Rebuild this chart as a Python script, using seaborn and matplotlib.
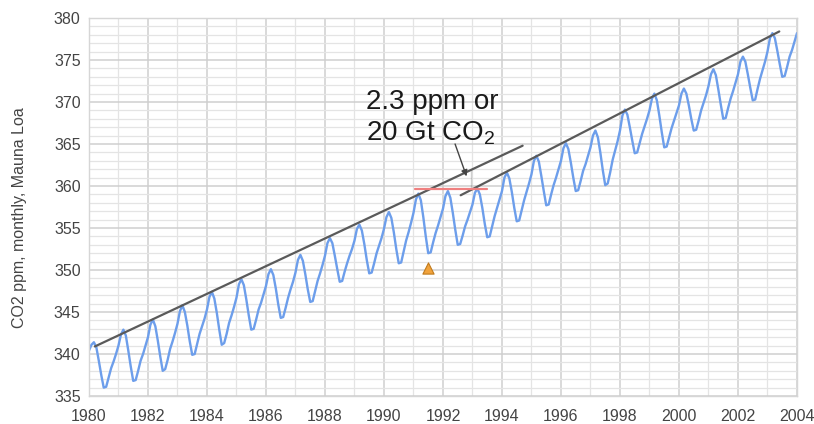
import numpy as np
import matplotlib
matplotlib.use("Agg")
import matplotlib.pyplot as plt
from matplotlib.ticker import MultipleLocator
import seaborn as sns


# ---------------------------------------------------------------------------
# Data (monthly CO2, Mauna Loa; one row per year)
# ---------------------------------------------------------------------------

co2_ppm = [
    340.4, 341.1, 341.4, 340.8, 339.2, 337.5, 336.0, 336.1, 337.2, 338.3, 339.1, 340.0,  # 1980
    341.0, 342.3, 342.9, 342.2, 340.4, 338.5, 336.8, 336.9, 338.0, 339.2, 340.0, 341.0,  # 1981
    342.0, 343.5, 344.1, 343.3, 341.6, 339.7, 338.0, 338.2, 339.3, 340.6, 341.5, 342.5,  # 1982
    343.6, 345.1, 345.8, 345.0, 343.4, 341.5, 339.9, 340.0, 341.2, 342.4, 343.3, 344.2,  # 1983
    345.3, 346.8, 347.4, 346.6, 344.9, 342.9, 341.1, 341.3, 342.4, 343.7, 344.6, 345.6,  # 1984
    346.7, 348.3, 348.9, 348.2, 346.5, 344.6, 342.9, 343.0, 344.1, 345.3, 346.1, 347.1,  # 1985
    348.1, 349.5, 350.1, 349.4, 347.8, 345.9, 344.3, 344.4, 345.5, 346.7, 347.7, 348.6,  # 1986
    349.7, 351.2, 351.8, 351.1, 349.5, 347.7, 346.2, 346.3, 347.5, 348.7, 349.6, 350.6,  # 1987
    351.7, 353.2, 353.8, 353.2, 351.7, 350.1, 348.6, 348.7, 349.8, 350.8, 351.7, 352.5,  # 1988
    353.5, 354.9, 355.4, 354.7, 353.1, 351.2, 349.6, 349.7, 350.8, 352.0, 352.9, 353.8,  # 1989
    354.9, 356.3, 356.9, 356.2, 354.5, 352.5, 350.8, 350.9, 352.2, 353.5, 354.5, 355.6,  # 1990
    356.8, 358.4, 359.1, 358.3, 356.3, 354.0, 352.0, 352.1, 353.3, 354.4, 355.3, 356.3,  # 1991
    357.3, 358.8, 359.4, 358.6, 356.8, 354.8, 353.0, 353.1, 354.1, 355.2, 356.0, 356.9,  # 1992
    357.8, 359.2, 359.7, 359.0, 357.4, 355.5, 353.9, 354.0, 355.2, 356.4, 357.4, 358.4,  # 1993
    359.4, 361.0, 361.6, 360.9, 359.3, 357.4, 355.8, 355.9, 357.1, 358.3, 359.3, 360.3,  # 1994
    361.4, 363.0, 363.6, 362.9, 361.2, 359.4, 357.7, 357.8, 359.0, 360.1, 361.0, 362.0,  # 1995
    363.0, 364.5, 365.1, 364.4, 362.8, 361.0, 359.4, 359.5, 360.6, 361.8, 362.6, 363.6,  # 1996
    364.6, 366.0, 366.6, 365.8, 364.0, 361.9, 360.1, 360.3, 361.6, 363.1, 364.2, 365.3,  # 1997
    366.6, 368.4, 369.1, 368.5, 367.0, 365.4, 363.9, 364.0, 365.1, 366.2, 367.1, 368.0,  # 1998
    369.0, 370.4, 371.0, 370.2, 368.4, 366.4, 364.6, 364.7, 365.8, 366.9, 367.8, 368.7,  # 1999
    369.6, 371.0, 371.6, 371.0, 369.6, 368.0, 366.6, 366.7, 367.8, 369.0, 369.9, 370.8,  # 2000
    371.9, 373.3, 373.9, 373.2, 371.5, 369.7, 368.0, 368.1, 369.3, 370.4, 371.3, 372.3,  # 2001
    373.3, 374.8, 375.4, 374.8, 373.3, 371.7, 370.2, 370.3, 371.6, 372.8, 373.8, 374.8,  # 2002
    376.0, 377.6, 378.2, 377.6, 376.1, 374.5, 373.0, 373.1, 374.2, 375.4, 376.2, 377.2,  # 2003
    378.2,                                                                                # 2004
]
years = 1980 + np.arange(len(co2_ppm)) / 12

# hand-drawn envelope lines
trend_a_years = [1980.2, 1994.7]
trend_a_ppm = [340.9, 364.8]
trend_b_years = [1992.6, 2003.4]
trend_b_ppm = [358.9, 378.4]
gap_years = [1992.95, 1992.95]
gap_ppm = [359.5, 361.9]
level_years = [1991.05, 1993.5]
level_ppm = [359.7, 359.7]
marker_year = [1991.5]
marker_ppm = [350.2]

x_ticks = list(range(1980, 2005, 2))
y_ticks = list(range(335, 381, 5))


# ---------------------------------------------------------------------------
# Plot
# ---------------------------------------------------------------------------

sns.set_theme(style="white")
plt.rcParams["font.family"] = ["Liberation Sans", "DejaVu Sans"]
plt.rcParams["mathtext.default"] = "regular"

fig = plt.figure(figsize=(8.14, 4.24), dpi=100)
ax = fig.add_axes([0.1093, 0.066, 0.8698, 0.8915])

ax.set_axisbelow(True)
ax.xaxis.set_minor_locator(MultipleLocator(1))
ax.yaxis.set_minor_locator(MultipleLocator(1))
ax.grid(which="major", color="#cfcfcf", linewidth=1.1)
ax.grid(which="minor", color="#e4e4e4", linewidth=0.9)

sns.lineplot(x=years, y=co2_ppm, ax=ax, color="#6d9eeb", linewidth=1.7)

line_kw = dict(color="#5a5a5a", linewidth=1.6)
sns.lineplot(x=trend_a_years, y=trend_a_ppm, ax=ax, **line_kw)
sns.lineplot(x=trend_b_years, y=trend_b_ppm, ax=ax, **line_kw)
sns.lineplot(x=gap_years, y=gap_ppm, ax=ax, color="#222222", linewidth=1.6)
sns.lineplot(x=level_years, y=level_ppm, ax=ax, color="#ef8080", linewidth=1.6)

sns.scatterplot(x=marker_year, y=marker_ppm, ax=ax, marker="^", s=65,
                color="#f1a33c", edgecolor="#c07a1c", linewidth=0.8, zorder=5)

ax.text(1989.39, 369.17, "2.3 ppm or", fontsize=20, color="#1a1a1a",
        ha="left", va="baseline")
ax.text(1989.39, 365.36, "20 Gt CO$_2$", fontsize=20, color="#1a1a1a",
        ha="left", va="baseline")
ax.annotate("", xy=(1992.80, 361.15), xytext=(1992.41, 365.0),
            arrowprops=dict(arrowstyle="-|>", color="#444444", lw=1.0,
                            mutation_scale=9, shrinkA=0, shrinkB=0))

ax.set_xlim(1980, 2004)
ax.set_ylim(335, 380)
ax.set_xticks(x_ticks)
ax.set_yticks(y_ticks)
ax.tick_params(which="both", length=0, labelsize=11.5, colors="#444444")
ax.tick_params(axis="x", pad=9)
ax.tick_params(axis="y", pad=6)

ax.set_xlabel("")
ax.set_ylabel("CO2 ppm, monthly, Mauna Loa", fontsize=11.5, color="#444444")
ax.yaxis.set_label_coords(-0.088, 0.472)

for spine in ax.spines.values():
    spine.set_color("#d6d6d6")
    spine.set_linewidth(1.0)

fig.savefig("out.png", dpi=100)
